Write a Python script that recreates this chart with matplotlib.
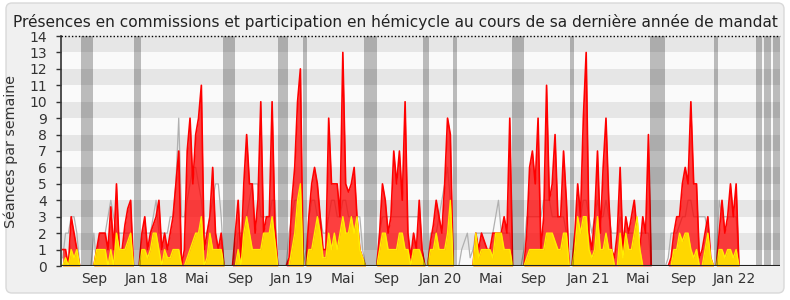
import numpy as np
import matplotlib
matplotlib.use("Agg")
import matplotlib.pyplot as plt
from matplotlib.patches import FancyBboxPatch

# weekly values, week 0 = start of the legislature
total = [1, 1, 0, 3, 2, 1, 0, 0, 0, 0,
         0, 0, 1, 2, 2, 2, 1, 3.6, 1, 5,
         1, 1, 2.5, 3.5, 4, 0, 0, 0, 2, 3,
         1, 2, 2.5, 3, 4, 1, 2, 1, 2, 3,
         5, 7, 0, 1, 7, 9, 5, 8, 9, 11,
         1, 2, 3, 6, 2, 1, 2, 0, 0, 0,
         0, 2, 4, 0.5, 5, 8, 5, 5, 2, 4,
         10, 2, 3, 3, 10, 2.5, 0, 0, 0, 0,
         0.5, 4, 6, 10, 12, 0, 0, 3, 5, 6,
         5, 3, 1, 1, 9, 5, 5, 5, 3, 13,
         5, 4.5, 5, 6, 3, 1, 0.5, 0, 0, 0,
         0, 0, 2, 5, 4, 2, 3, 7, 5, 7,
         4, 10, 2, 0.5, 2, 1, 4, 1, 0, 0,
         1.5, 2.5, 4, 3, 2, 5, 9, 8, 0, 0,
         0, 0, 0, 0, 0, 0, 2, 1, 2, 1.5,
         1, 1, 2, 2, 2, 2, 3, 2, 9, 0,
         0, 0, 0, 0, 2, 6, 7, 5, 9, 1,
         3, 11, 4, 5, 8, 3, 3, 7, 4, 0,
         0, 2, 5, 3, 9, 13, 2, 1, 3, 7,
         2, 6, 9, 4, 1, 0.5, 2, 6, 1, 3,
         2, 3, 4, 2, 1, 3, 2, 8, 0, 0,
         0, 0, 0, 0, 0, 0.5, 2, 3, 3, 5,
         6, 5, 10, 5, 5, 0.5, 1, 2, 3, 0.5,
         0, 0, 2, 4, 2, 3, 5, 3, 5, 0,
         0, 0, 0, 0, 0, 0, 0, 0, 0, 0,
         0, 0, 0, 0]

hemicycle = [0, 0.5, 0, 1, 0.5, 1, 0, 0, 0, 0,
             0, 0, 1, 1, 1, 1, 0, 1, 0, 2,
             1, 1, 1, 1.5, 2, 0, 0, 0, 1, 1,
             0.5, 1, 2, 2, 1, 0, 1, 0.5, 0.5, 1,
             1, 1, 0, 0, 0.5, 1, 1.5, 2, 2, 3,
             0, 0.5, 2, 1, 1, 1, 1, 0, 0, 0,
             0, 0, 1, 0, 2, 3, 2, 1, 1, 1,
             1, 2, 2, 2, 3, 1.5, 0, 0, 0, 0,
             0, 1, 2, 4, 5, 0, 0, 1, 1, 2,
             3, 2, 0.5, 0.5, 2, 1, 2, 1, 2, 3,
             2, 2, 3, 2, 3, 1, 0.5, 0, 0, 0,
             0, 0, 1, 2, 2, 1, 1, 1, 1, 2,
             2, 1, 1, 0, 1, 1, 1, 0.5, 0, 0,
             1, 1, 2, 1, 1, 1, 2, 4, 0, 0,
             0, 0, 0, 0, 0, 0, 2, 0.5, 1, 1,
             1, 1, 0.5, 2, 2, 2, 1, 1, 1, 0,
             0, 0, 0, 0, 0.5, 1, 1, 1, 1, 1,
             1, 2, 2, 2, 1.5, 1, 1, 2, 2, 0,
             0, 1, 3, 2, 3, 3, 1, 0.5, 1, 3,
             1, 1, 2, 1, 1, 0, 0, 2, 0.5, 2,
             1, 1, 2, 3, 1, 0, 0, 0, 0, 0,
             0, 0, 0, 0, 0, 0, 1, 1, 2, 1.5,
             2, 2, 1, 0.5, 1, 0, 0, 1, 2, 0.5,
             0, 0, 1, 1, 0.5, 1, 1, 0.5, 1, 0,
             0, 0, 0, 0, 0, 0, 0, 0, 0, 0,
             0, 0, 0, 0]

median = [0.5, 2, 2, 3, 3, 2, 0, 0, 0, 0,
          0, 2, 0, 2, 2, 2, 3, 4, 3, 2,
          2, 2, 2, 2, 2, 0, 0, 0, 2, 2,
          2, 2, 3, 4, 2, 2, 2, 2, 3, 3,
          5, 9, 3, 3, 4, 5, 6, 6, 5, 4,
          2, 2, 3, 4, 5, 5, 3, 0, 0, 0,
          0, 0, 2, 2, 2, 3, 4, 5, 5, 5,
          3, 3, 3, 3, 4, 4, 0, 0, 0, 0,
          2, 3, 4, 4, 3, 0, 1, 3, 4, 4,
          3, 3, 2, 2, 3, 4, 4, 3, 3, 4,
          4, 3, 3, 3, 3, 3, 1, 0, 0, 0,
          0, 0, 2, 3, 3, 3, 3, 3, 3, 3,
          3, 3, 3, 3, 3, 3, 3, 1, 0, 0,
          2, 2, 2, 3, 4, 5, 6, 4, 0, 0,
          0, 1, 1.5, 2, 0.5, 1, 2, 2, 2, 2,
          2, 2, 2, 3, 4, 2, 2, 2, 2, 0,
          0, 0, 0, 1, 3, 3, 3, 3, 3, 3,
          4, 4, 4, 3, 3, 3, 3, 3, 2, 0,
          0, 2, 3, 3, 4, 4, 3, 2, 3, 4,
          3, 3, 4, 3, 2, 2, 2, 3, 2, 2,
          2, 2, 2, 2, 2, 2, 2, 2, 0, 0,
          0, 0, 0, 0, 0.5, 2, 2, 2, 2.5, 3,
          3, 4, 4, 3, 3, 3, 3, 3, 2, 0,
          0, 0, 4, 3, 3, 3, 3, 3, 3, 0,
          0, 0, 0, 0, 0, 0, 0, 0, 0, 0,
          0, 0, 0, 0]

# holiday periods (start week, end week)
vacances = [(6.5, 10.6), (25.3, 27.7), (56.5, 61.0), (76.0, 79.5),
            (84.8, 86.2), (106.5, 111.0), (127.3, 129.4), (137.9, 139.3),
            (158.8, 163.0), (179.3, 180.7), (207.5, 212.8), (230.1, 231.5),
            (245.0, 247.0), (247.9, 250.2), (251.0, 253.5)]

mois = ["Sep", "Jan 18", "Mai", "Sep", "Jan 19", "Mai", "Sep", "Jan 20",
        "Mai", "Sep", "Jan 21", "Mai", "Sep", "Jan 22"]
mois_pos = [11.2, 29.6, 47.3, 62.7, 81.0, 99.0, 114.2, 133.5,
            151.4, 166.2, 185.6, 203.1, 219.2, 237.2]

titre = ("Présences en commissions et participation en hémicycle "
         "au cours de sa dernière année de mandat")

weeks = np.arange(len(total))

fig = plt.figure(figsize=(7.9, 3.0), dpi=100)
fig.patch.set_facecolor("white")
frame = FancyBboxPatch((0.06, 0.07), 7.78, 2.90,
                       boxstyle="round,pad=0,rounding_size=0.06",
                       transform=fig.dpi_scale_trans,
                       fc="#f0f0f0", ec="#d9d9d9", lw=1, zorder=-10)
fig.patches.append(frame)

ax = fig.add_axes([61.3 / 790, 34 / 300, 718.7 / 790, 230 / 300])
ax.set_facecolor("none")
ax.set_zorder(1)

for k in range(14):
    ax.axhspan(k, k + 1, color="#e6e6e6" if k % 2 else "#fafafa", lw=0, zorder=0)

ax.plot(weeks, median, color="#b0b0b0", lw=0.9, zorder=2)
ax.fill_between(weeks, 0, total, color="#ff0000", alpha=0.75, lw=0, zorder=3)
ax.plot(weeks, total, color="#ff0000", lw=1.2, zorder=4)
ax.fill_between(weeks, 0, hemicycle, color="#ffd700", lw=0, zorder=5)
ax.plot(weeks, hemicycle, color="#ffee00", lw=1.0, zorder=6)

for a, b in vacances:
    ax.axvspan(a, b, color="black", alpha=0.25, lw=0, zorder=7)

ax.axhline(14, color="black", ls=(0, (1, 1.5)), lw=1, clip_on=False, zorder=8)
ax.axhline(0, color="#222222", lw=1.5, zorder=8)

ax.set_xlim(-0.5, len(total) - 0.5)
ax.set_ylim(0, 14)
ax.set_yticks(range(15))
ax.set_xticks(mois_pos, mois)

for s in ["top", "right", "bottom"]:
    ax.spines[s].set_visible(False)
ax.spines["left"].set_color("#333333")
ax.spines["left"].set_linewidth(1.2)
ax.tick_params(axis="y", length=3.5, width=1, color="#333333", pad=7,
               labelsize=10, labelcolor="#333333")
ax.tick_params(axis="x", length=0, pad=4, labelsize=10, labelcolor="#333333")

ax.set_ylabel("Séances par semaine", fontsize=10.3, color="#333333")
ax.yaxis.set_label_coords(-0.060, 0.5)

fig.text(0.5, 1 - 26.7 / 300, titre, ha="center", va="baseline",
         fontsize=11.1, color="#222222")

fig.savefig("out.png", dpi=100)
